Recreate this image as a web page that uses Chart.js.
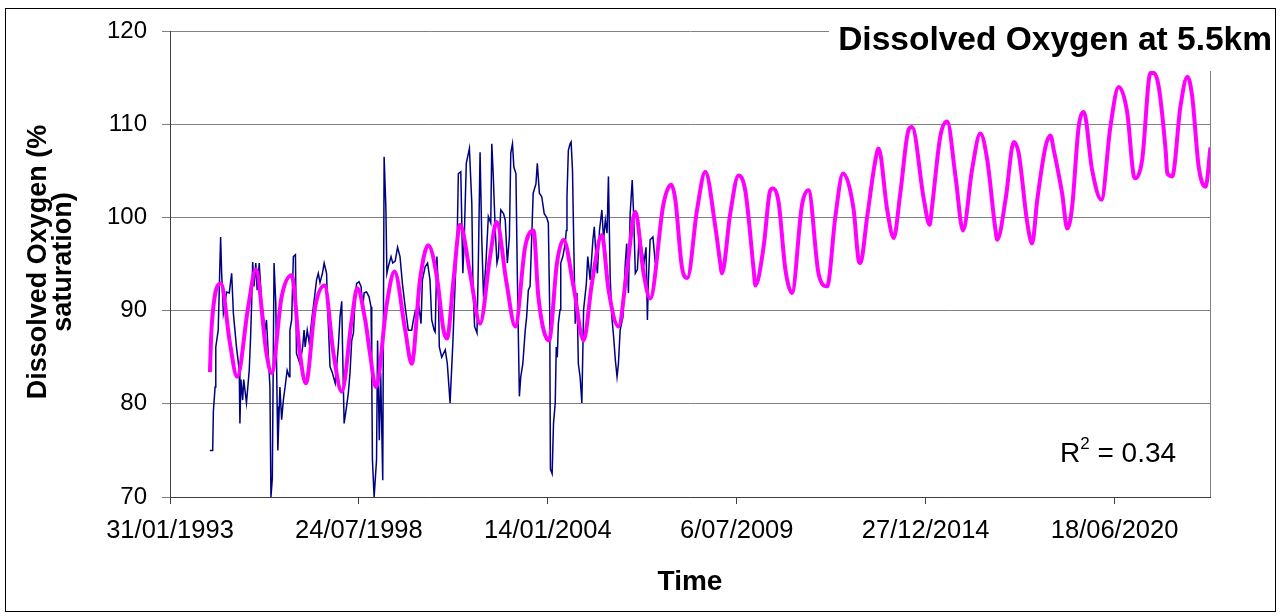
<!DOCTYPE html>
<html>
<head>
<meta charset="utf-8">
<script src="https://cdn.jsdelivr.net/npm/chart.js@4.4.0/dist/chart.umd.min.js"></script>
<style>
  html, body { margin: 0; padding: 0; background: #fff; }
  canvas { display: block; }
</style>
</head>
<body>
<canvas id="chart" width="1281" height="616"></canvas>
<script>
const FONT = '"Liberation Sans", Arial, sans-serif';

// x axis tick labels (Excel date axis, every 2000 days)
const tickLabels = ['31/01/1993', '24/07/1998', '14/01/2004', '6/07/2009', '27/12/2014', '18/06/2020'];

// measured dissolved oxygen (decimal year / % saturation)
const obsTime = [
  1994.24, 1994.32, 1994.34, 1994.39, 1994.41, 1994.48, 1994.55, 1994.58, 1994.63, 1994.68,
  1994.72, 1994.80, 1994.87, 1994.92, 1995.01, 1995.09, 1995.11, 1995.14, 1995.19, 1995.22,
  1995.30, 1995.38, 1995.42, 1995.45, 1995.48, 1995.52, 1995.57, 1995.61, 1995.67, 1995.74,
  1995.84, 1995.88, 1995.93, 1995.98, 1996.01, 1996.05, 1996.10, 1996.15, 1996.19, 1996.21,
  1996.27, 1996.32, 1996.37, 1996.42, 1996.48, 1996.54, 1996.56, 1996.61, 1996.66, 1996.72,
  1996.75, 1996.85, 1996.93, 1996.97, 1997.00, 1997.06, 1997.12, 1997.19, 1997.26, 1997.33,
  1997.38, 1997.43, 1997.50, 1997.55, 1997.62, 1997.65, 1997.69, 1997.72, 1997.79, 1997.87,
  1997.96, 1998.01, 1998.06, 1998.08, 1998.13, 1998.20, 1998.25, 1998.30, 1998.35, 1998.40,
  1998.44, 1998.49, 1998.56, 1998.62, 1998.67, 1998.71, 1998.78, 1998.85, 1998.91, 1998.93,
  1998.95, 1999.00, 1999.07, 1999.10, 1999.15, 1999.19, 1999.25, 1999.29, 1999.34, 1999.37,
  1999.41, 1999.49, 1999.54, 1999.61, 1999.68, 1999.75, 1999.82, 1999.90, 1999.99, 2000.09,
  2000.14, 2000.19, 2000.23, 2000.30, 2000.36, 2000.40, 2000.48, 2000.55, 2000.62, 2000.67,
  2000.74, 2000.77, 2000.82, 2000.86, 2000.89, 2000.96, 2001.06, 2001.12, 2001.20, 2001.28,
  2001.32, 2001.37, 2001.41, 2001.44, 2001.51, 2001.57, 2001.61, 2001.67, 2001.76, 2001.83,
  2001.86, 2001.91, 2001.98, 2002.02, 2002.07, 2002.12, 2002.17, 2002.24, 2002.31, 2002.38,
  2002.41, 2002.45, 2002.51, 2002.56, 2002.60, 2002.67, 2002.75, 2002.80, 2002.86, 2002.92,
  2002.96, 2003.01, 2003.05, 2003.11, 2003.15, 2003.21, 2003.25, 2003.31, 2003.38, 2003.42,
  2003.47, 2003.52, 2003.61, 2003.69, 2003.73, 2003.79, 2003.86, 2003.93, 2004.00, 2004.05,
  2004.09, 2004.11, 2004.16, 2004.20, 2004.25, 2004.28, 2004.31, 2004.34, 2004.39, 2004.41,
  2004.47, 2004.54, 2004.57, 2004.59, 2004.63, 2004.68, 2004.71, 2004.75, 2004.78, 2004.83,
  2004.88, 2004.92, 2004.97, 2005.02, 2005.07, 2005.15, 2005.19, 2005.26, 2005.34, 2005.38,
  2005.44, 2005.47, 2005.53, 2005.60, 2005.65, 2005.70, 2005.75, 2005.79, 2005.84, 2005.89,
  2005.94, 2005.99, 2006.04, 2006.08, 2006.13, 2006.21, 2006.28, 2006.32, 2006.37, 2006.42,
  2006.48, 2006.52, 2006.57, 2006.63, 2006.69, 2006.75, 2006.82, 2006.88, 2006.92, 2006.95,
  2007.00, 2007.08, 2007.15
];
const obsDO = [
  75.0, 75.0, 79.2, 81.8, 86.1, 87.9, 97.9, 94.0, 89.7, 90.8,
  92.0, 91.9, 94.0, 89.7, 86.1, 83.6, 77.9, 82.6, 80.4, 82.6,
  80.1, 83.6, 87.2, 90.8, 95.2, 92.6, 95.1, 92.2, 95.1, 90.8,
  87.9, 89.0, 85.4, 81.8, 70.0, 72.0, 95.1, 90.8, 79.7, 75.0,
  81.8, 78.3, 80.4, 81.8, 83.6, 82.9, 87.9, 89.0, 95.8, 96.0,
  85.4, 84.3, 86.1, 87.9, 86.1, 87.9, 86.5, 89.0, 91.1, 93.3,
  94.0, 93.0, 94.0, 95.1, 94.0, 90.4, 86.8, 84.0, 83.3, 82.2,
  86.1, 89.3, 91.0, 86.8, 77.9, 79.7, 81.1, 83.3, 86.8, 87.6,
  90.8, 92.9, 93.1, 92.6, 90.4, 91.9, 92.0, 91.5, 90.4, 83.3,
  74.0, 70.0, 74.0, 86.8, 76.1, 83.3, 71.8, 106.5, 101.1, 94.0,
  94.7, 95.8, 95.1, 95.3, 96.8, 95.8, 92.9, 90.4, 87.9, 87.9,
  89.0, 89.9, 89.4, 90.4, 88.6, 93.3, 94.7, 95.1, 93.3, 89.0,
  87.9, 87.7, 95.8, 92.6, 86.1, 85.0, 85.8, 84.3, 80.1, 86.5,
  90.4, 95.1, 98.6, 104.7, 104.9, 94.0, 97.6, 105.8, 107.4, 101.5,
  93.3, 88.3, 87.6, 95.1, 107.0, 97.6, 91.5, 95.1, 100.1, 99.4,
  107.9, 104.7, 98.6, 95.1, 95.8, 100.8, 100.4, 99.7, 95.1, 97.9,
  106.9, 107.9, 105.4, 104.7, 94.0, 80.8, 82.9, 84.3, 87.9, 89.3,
  92.2, 92.6, 102.6, 103.6, 105.8, 102.6, 102.2, 100.4, 100.0, 99.4,
  90.0, 73.0, 72.5, 77.9, 80.1, 86.1, 85.0, 88.6, 90.1, 95.1,
  95.8, 97.2, 98.6, 102.2, 107.2, 107.9, 108.1, 105.1, 98.6, 88.6,
  91.9, 84.3, 82.9, 80.1, 90.1, 92.9, 95.8, 93.3, 97.6, 99.0,
  95.1, 94.0, 98.6, 100.8, 97.6, 99.7, 98.3, 104.4, 93.6, 89.3,
  87.2, 84.7, 82.9, 84.3, 87.9, 89.3, 95.1, 97.2, 91.9, 100.4,
  104.0, 100.4, 94.0, 94.4, 98.6, 96.8, 95.1, 96.8, 89.0, 93.3,
  97.6, 97.9, 95.1
];

// modelled dissolved oxygen (decimal year / % saturation)
const modelTime = [
  1994.24, 1994.29, 1994.56, 1994.82, 1995.03, 1995.35, 1995.57, 1995.88, 1996.03, 1996.32,
  1996.61, 1996.85, 1997.02, 1997.29, 1997.56, 1997.82, 1998.06, 1998.35, 1998.51, 1998.74,
  1998.88, 1999.05, 1999.37, 1999.59, 1999.90, 2000.09, 2000.33, 2000.57, 2000.82, 2001.01,
  2001.11, 2001.30, 2001.49, 2001.78, 2002.07, 2002.36, 2002.55, 2002.84, 2003.09, 2003.38,
  2003.62, 2003.76, 2004.07, 2004.30, 2004.49, 2004.78, 2005.07, 2005.31, 2005.60, 2005.79,
  2006.08, 2006.33, 2006.57, 2006.81, 2007.00, 2007.39, 2007.61, 2007.73, 2007.92, 2008.08,
  2008.36, 2008.60, 2008.89, 2009.03, 2009.08, 2009.32, 2009.56, 2009.76, 2010.00, 2010.05,
  2010.29, 2010.48, 2010.56, 2010.72, 2010.92, 2011.11, 2011.40, 2011.59, 2011.88, 2012.13,
  2012.37, 2012.59, 2012.90, 2013.04, 2013.09, 2013.29, 2013.53, 2013.62, 2013.87, 2014.06,
  2014.25, 2014.49, 2014.59, 2014.93, 2015.10, 2015.17, 2015.41, 2015.61, 2015.85, 2016.07,
  2016.33, 2016.57, 2016.77, 2017.01, 2017.06, 2017.30, 2017.54, 2017.68, 2017.93, 2018.07,
  2018.22, 2018.46, 2018.60, 2018.70, 2018.94, 2019.09, 2019.23, 2019.42, 2019.57, 2019.81,
  2020.08, 2020.34, 2020.58, 2020.83, 2021.02, 2021.07, 2021.26, 2021.50, 2021.60, 2021.74,
  2021.94, 2021.99, 2022.13, 2022.37, 2022.57, 2022.71, 2022.90, 2023.10, 2023.24
];
const modelDO = [
  83.4, 88.3, 92.9, 86.5, 82.9, 90.4, 94.4, 85.4, 83.3, 91.5,
  93.8, 85.4, 82.2, 90.4, 92.7, 85.4, 81.3, 89.0, 92.4, 89.0,
  85.4, 81.8, 90.8, 94.2, 87.9, 84.3, 93.3, 97.0, 93.6, 87.9,
  87.0, 93.3, 99.2, 94.0, 88.6, 95.8, 99.5, 92.9, 88.3, 96.9,
  98.6, 91.5, 86.8, 95.1, 97.6, 92.6, 86.8, 92.9, 98.1, 92.3,
  88.3, 94.4, 100.6, 94.0, 91.3, 101.5, 103.5, 101.9, 94.7, 93.5,
  100.8, 104.9, 99.0, 95.1, 94.0, 100.4, 104.5, 102.8, 94.4, 92.7,
  96.9, 102.9, 103.1, 101.7, 94.4, 91.9, 101.3, 102.9, 94.0, 92.6,
  100.1, 104.7, 100.8, 95.4, 95.1, 100.1, 106.2, 107.4, 100.8, 97.8,
  102.6, 109.4, 109.7, 102.0, 99.2, 101.1, 108.7, 110.3, 104.4, 98.6,
  105.1, 109.0, 106.2, 98.6, 97.6, 101.9, 108.1, 106.9, 99.4, 97.2,
  101.9, 107.6, 108.8, 107.2, 102.6, 98.8, 101.1, 109.7, 111.3, 105.1,
  101.9, 109.7, 114.0, 111.2, 104.4, 104.2, 106.2, 115.5, 115.5, 114.0,
  107.2, 104.7, 104.4, 111.9, 115.1, 113.0, 105.4, 103.3, 107.5
];

const DAY = 86400000;
const EXCEL_EPOCH = Date.UTC(1899, 11, 30);

// dd/mm/yyyy -> Excel serial day
function dmyToSerial(s) {
  const [d, m, y] = s.split('/').map(Number);
  return (Date.UTC(y, m - 1, d) - EXCEL_EPOCH) / DAY;
}

// decimal year -> Excel serial day
function yearToSerial(t) {
  const y = Math.floor(t);
  return (Date.UTC(y, 0, 1) - EXCEL_EPOCH) / DAY + (t - y) * 365.25;
}

const tickValues = tickLabels.map(dmyToSerial);
const tickText = {};
tickValues.forEach((v, i) => { tickText[v] = tickLabels[i]; });

const toPoints = (ts, vs) => ts.map((t, i) => ({ x: yearToSerial(t), y: vs[i] }));

// frame, titles and R² text
const decorations = {
  id: 'decorations',
  beforeDraw(chart) {
    const ctx = chart.ctx;
    ctx.save();
    ctx.fillStyle = '#fff';
    ctx.fillRect(0, 0, chart.width, chart.height);
    ctx.restore();
  },
  afterDraw(chart) {
    const { ctx, chartArea: a } = chart;
    ctx.save();

    // right edge of plot area
    ctx.strokeStyle = '#808080';
    ctx.lineWidth = 1;
    ctx.beginPath();
    ctx.moveTo(Math.round(a.right) + 0.5, a.top);
    ctx.lineTo(Math.round(a.right) + 0.5, a.bottom);
    ctx.stroke();

    // title sits on a white box over the plot
    ctx.fillStyle = '#fff';
    ctx.fillRect(829, 9, 446, 62);
    ctx.fillStyle = '#000';
    ctx.font = 'bold 33.5px ' + FONT;
    ctx.textAlign = 'right';
    ctx.textBaseline = 'middle';
    ctx.fillText('Dissolved Oxygen at 5.5km', 1272, 41);

    // x axis title
    ctx.textAlign = 'center';
    ctx.font = 'bold 28px ' + FONT;
    ctx.fillText('Time', 690, 582);

    // y axis title, two lines
    ctx.save();
    ctx.translate(39, 262);
    ctx.rotate(-Math.PI / 2);
    ctx.font = 'bold 27px ' + FONT;
    ctx.fillText('Dissolved Oxygen (%', 0, 0);
    ctx.fillText('saturation)', 0, 25);
    ctx.restore();

    // R² label
    ctx.textAlign = 'left';
    ctx.textBaseline = 'alphabetic';
    ctx.font = '28px ' + FONT;
    let x = 1060;
    ctx.fillText('R', x, 462);
    x += ctx.measureText('R').width;
    ctx.font = '17px ' + FONT;
    ctx.fillText('2', x, 449);
    x += ctx.measureText('2').width;
    ctx.font = '28px ' + FONT;
    ctx.fillText(' = 0.34', x, 462);

    // outer border
    ctx.strokeStyle = '#000';
    ctx.strokeRect(5.5, 8.5, 1270, 603);
    ctx.restore();
  }
};

new Chart(document.getElementById('chart'), {
  type: 'line',
  data: {
    datasets: [
      {
        label: 'Model',
        data: toPoints(modelTime, modelDO),
        borderColor: '#FF00FF',
        borderWidth: 4,
        pointRadius: 0,
        cubicInterpolationMode: 'monotone',
        fill: false
      },
      {
        label: 'Measured',
        data: toPoints(obsTime, obsDO),
        borderColor: '#000080',
        borderWidth: 1.5,
        pointRadius: 0,
        tension: 0,
        fill: false
      }
    ]
  },
  options: {
    responsive: false,
    animation: false,
    devicePixelRatio: 1,
    layout: { padding: { top: 31, right: 71, left: 0, bottom: 0 } },
    plugins: {
      legend: { display: false },
      tooltip: { enabled: false }
    },
    scales: {
      x: {
        type: 'linear',
        min: 34000,
        max: 45010,
        afterFit: (scale) => { scale.height = 119; },
        afterBuildTicks: (axis) => { axis.ticks = tickValues.map(v => ({ value: v })); },
        grid: { drawOnChartArea: false, color: '#404040', tickLength: 7 },
        border: { color: '#404040', width: 1 },
        ticks: {
          autoSkip: false,
          maxRotation: 0,
          color: '#000',
          padding: 12,
          font: { family: FONT, size: 25.5 },
          callback: (v) => tickText[v] || ''
        }
      },
      y: {
        min: 70,
        max: 120,
        afterFit: (scale) => { scale.width = 170; },
        grid: { color: '#808080', tickLength: 8 },
        border: { color: '#404040', width: 1 },
        ticks: {
          stepSize: 10,
          color: '#000',
          padding: 15,
          font: { family: FONT, size: 24 }
        }
      }
    }
  },
  plugins: [decorations]
});
</script>
</body>
</html>
